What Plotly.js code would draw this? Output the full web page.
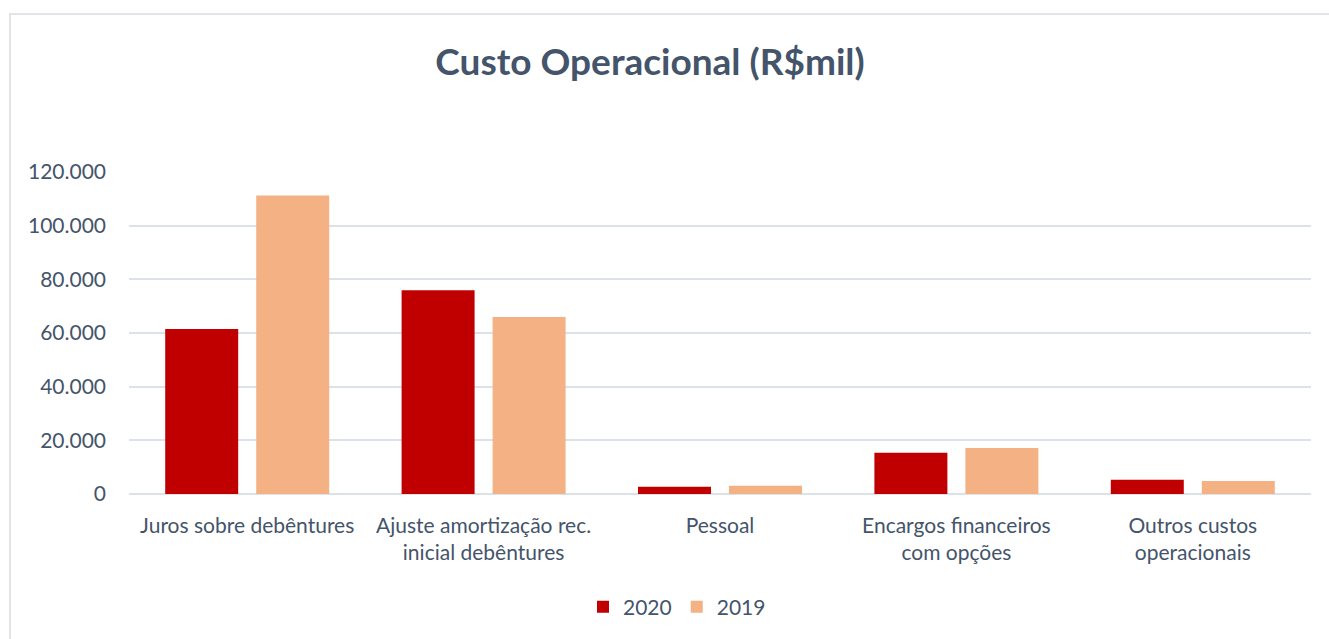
<!DOCTYPE html>
<html>
<head>
<meta charset="utf-8">
<script src="https://cdn.plot.ly/plotly-3.0.1.min.js"></script>
<style>
  html, body { margin: 0; padding: 0; background: #ffffff; }
  #frame { position: absolute; left: 9px; top: 13px; width: 1330px; height: 640px;
           border-left: 2px solid #E1E5EB; border-top: 2px solid #E1E5EB; box-sizing: border-box; }
  #chart { position: absolute; left: 0; top: 0; width: 1329px; height: 639px; }
</style>
</head>
<body>
<div id="frame"></div>
<div id="chart"></div>
<script>
const categories = [
  "Juros sobre debêntures",
  "Ajuste amortização rec.<br>inicial debêntures",
  "Pessoal",
  "Encargos financeiros<br>com opções",
  "Outros custos<br>operacionais"
];
const values2020 = [61500, 75900, 2700, 15400, 5300];
const values2019 = [111200, 66000, 3100, 17100, 4800];
const yTicks = [0, 20000, 40000, 60000, 80000, 100000, 120000];

const textColor = "#44546A";
const fontFamily = "Lato, 'Open Sans', sans-serif";

const traces = [
  { type: "bar", name: "2020", x: categories, y: values2020, marker: { color: "#C00000" }, hoverinfo: "y+name" },
  { type: "bar", name: "2019", x: categories, y: values2019, marker: { color: "#F4B183" }, hoverinfo: "y+name" }
];

const layout = {
  width: 1329, height: 639,
  paper_bgcolor: "rgba(0,0,0,0)", plot_bgcolor: "rgba(0,0,0,0)",
  separators: ",.",
  margin: { l: 129, r: 18, t: 172, b: 145, autoexpand: false },
  font: { family: fontFamily, color: textColor, size: 21 },
  title: {
    text: "<b>Custo Operacional (R$mil)</b>",
    font: { family: fontFamily, size: 37, color: textColor },
    x: 650 / 1329, xanchor: "center", xref: "container",
    y: 1 - 62 / 639, yanchor: "middle", yref: "container"
  },
  barmode: "group",
  bargap: 0.23,
  bargroupgap: 0.198,
  xaxis: {
    type: "category",
    tickangle: 0,
    ticks: "",
    showline: false,
    showgrid: false,
    ticklabelstandoff: 17,
    tickfont: { family: fontFamily, size: 21, color: textColor },
    automargin: false
  },
  yaxis: {
    range: [0, 120000],
    tickvals: yTicks,
    tickformat: ",.0f",
    showgrid: true,
    gridcolor: "#DDE2E8",
    gridwidth: 1.5,
    zeroline: true,
    zerolinecolor: "#DDE2E8",
    zerolinewidth: 2,
    ticks: "",
    ticklabelstandoff: 22,
    tickfont: { family: fontFamily, size: 21, color: textColor },
    automargin: false
  },
  legend: {
    orientation: "h",
    x: (677 - 129) / 1182, xanchor: "center",
    y: (494 - 607) / 322, yanchor: "middle",
    font: { family: fontFamily, size: 21, color: textColor },
    itemwidth: 30,
    traceorder: "normal"
  },
  showlegend: true
};

Plotly.newPlot("chart", traces, layout, { displayModeBar: false, responsive: false });
</script>
</body>
</html>
